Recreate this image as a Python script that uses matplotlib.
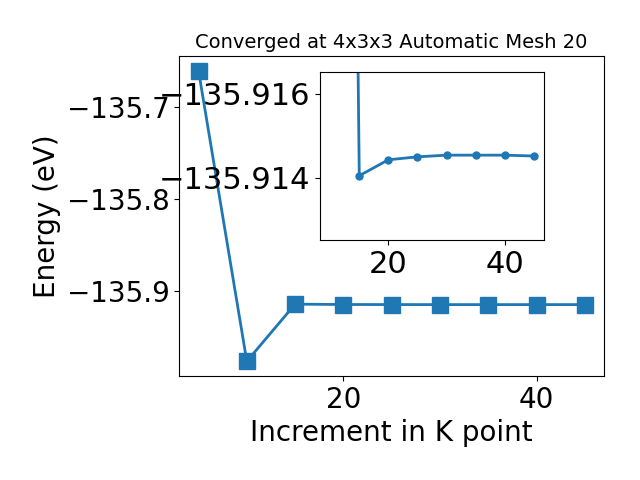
import matplotlib

matplotlib.use("Agg")
import matplotlib.pyplot as plt

kpoints = [5, 10, 15, 20, 25, 30, 35, 40, 45]
energy = [-135.661, -135.976, -135.91405, -135.91443, -135.91450,
          -135.91454, -135.91454, -135.91454, -135.91452]

fig = plt.figure(figsize=(6.4, 4.8), dpi=100)
ax = fig.add_axes([0.28, 0.217, 0.664, 0.666])
ax.plot(kpoints, energy, marker="s", markersize=11, linewidth=2)
ax.set_xlabel("Increment in K point", fontsize=20)
ax.set_ylabel("Energy (eV)", fontsize=20)
ax.set_title("Converged at 4x3x3 Automatic Mesh 20", fontsize=14)
ax.set_xticks([20, 40])
ax.tick_params(labelsize=20)

# inset: zoom on the converged part
ins = fig.add_axes([0.5, 0.5, 0.35, 0.35])
ins.plot(kpoints[1:], energy[1:], marker="o", markersize=5, linewidth=2)
ins.set_ylim(-135.91252, -135.91652)
ins.set_yticks([-135.916, -135.914])
ins.ticklabel_format(useOffset=False)
ins.tick_params(labelsize=22)

fig.savefig("out.png")
